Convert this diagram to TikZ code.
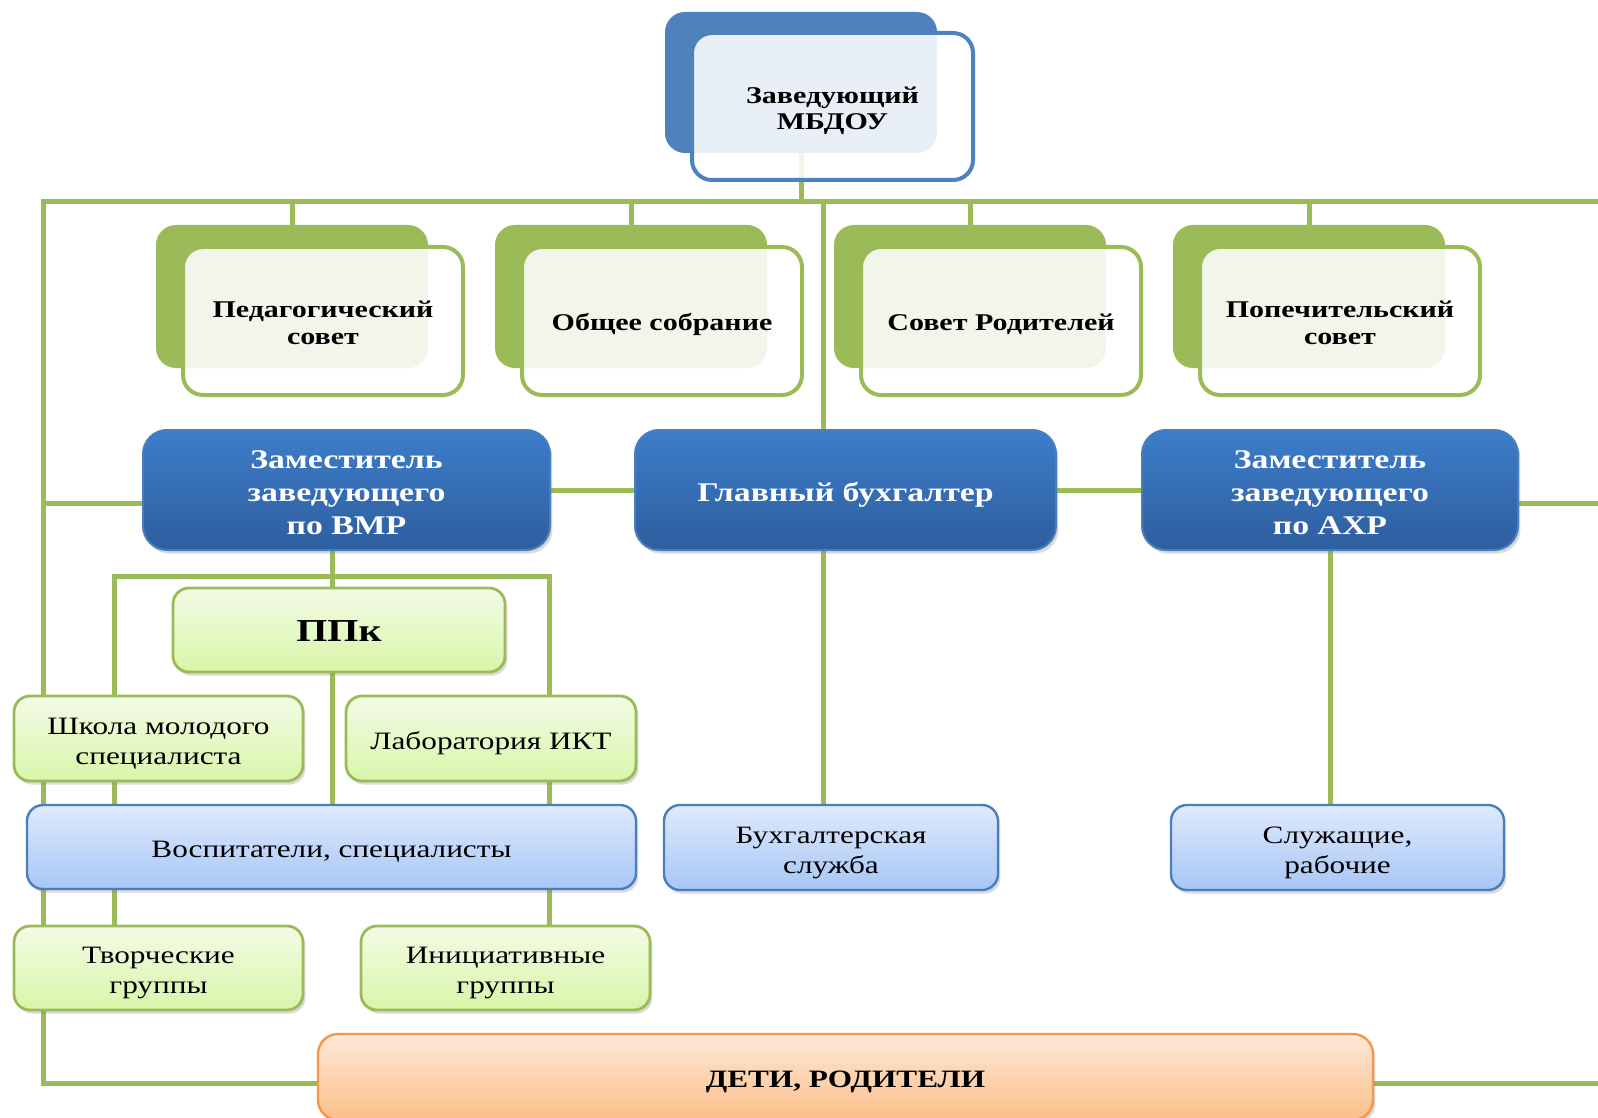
\documentclass[tikz,border=0pt]{standalone}
\usepackage{fontspec}
\setmainfont{Liberation Serif}[FakeStretch=1.25]
\usetikzlibrary{shadows}
\definecolor{gr}{HTML}{9BBB59}
\definecolor{bl}{HTML}{4F81BD}
\definecolor{bltop}{HTML}{3D7DCA}
\definecolor{blbot}{HTML}{2E5E9E}
\definecolor{blbrd}{HTML}{4A7EBB}
\definecolor{lgtop}{HTML}{F3FBE6}
\definecolor{lgbot}{HTML}{D8F6A8}
\definecolor{lbtop}{HTML}{DFEAFC}
\definecolor{lbbot}{HTML}{A7C6F7}
\definecolor{ortop}{HTML}{FDE8D8}
\definecolor{orbot}{HTML}{FBBF8A}
\definecolor{orbrd}{HTML}{F79646}
\newcommand{\boxtext}[1]{\raisebox{-2.3pt}[\height][\depth]{\begin{tabular}{@{}c@{}}#1\end{tabular}}}
\pgfdeclarelayer{bg}
\pgfsetlayers{bg,main}
\begin{document}
\begin{tikzpicture}[x=0.5pt,y=-0.5pt,
  conn/.style={draw=gr,line width=2.5pt},
  box/.style={inner sep=0pt},
  backbox/.style={inner sep=0pt,rounded corners=10pt},
  frontbox/.style={box,line width=2pt,fill=white,fill opacity=0.88,text opacity=1,rounded corners=10pt,
     font=\fontsize{12}{13.5}\selectfont\bfseries},
  shd/.style={drop shadow={opacity=0.3,shadow xshift=1.2pt,shadow yshift=-1.8pt}},
  bluebox/.style={box,shd,rounded corners=12pt,draw=blbrd,line width=1pt,top color=bltop,bottom color=blbot,
     text=white,font=\fontsize{13.5}{16.5}\selectfont\bfseries,minimum height=60pt},
  greenbox/.style={box,shd,rounded corners=8pt,draw=gr,line width=1.4pt,top color=lgtop,bottom color=lgbot,
     font=\fontsize{12.5}{15}\selectfont},
  lbluebox/.style={box,shd,rounded corners=8pt,draw=blbrd,line width=1.2pt,top color=lbtop,bottom color=lbbot,
     font=\fontsize{12.5}{15}\selectfont},
  orangebox/.style={box,shd,rounded corners=10pt,draw=orbrd,line width=1.2pt,top color=ortop,bottom color=orbot,
     font=\fontsize{12.5}{14}\selectfont\bfseries}
]
\useasboundingbox (0,0) rectangle (1598,1117);
\clip (0,0) rectangle (1598,1117);

% top box
\node[backbox,fill=bl,minimum width=136pt,minimum height=70.5pt] (topb) at (801,82.5) {};
\node[frontbox,draw=bl,minimum width=140.5pt,minimum height=73.5pt,font=\fontsize{12}{13}\selectfont\bfseries] (topf) at (832.5,106.5) {\boxtext{Заведующий\\МБДОУ}};

% row 2
\node[backbox,fill=gr,minimum width=136pt,minimum height=71.5pt] (pb1) at (292,296.5) {};
\node[frontbox,draw=gr,minimum width=140pt,minimum height=74pt] (pf1) at (323,321) {\boxtext{Педагогический\\совет}};
\node[backbox,fill=gr,minimum width=136pt,minimum height=71.5pt] (pb2) at (631,296.5) {};
\node[frontbox,draw=gr,minimum width=140pt,minimum height=74pt] (pf2) at (662,321) {\boxtext{Общее собрание}};
\node[backbox,fill=gr,minimum width=136pt,minimum height=71.5pt] (pb3) at (970,296.5) {};
\node[frontbox,draw=gr,minimum width=140pt,minimum height=74pt] (pf3) at (1001,321) {\boxtext{Совет Родителей}};
\node[backbox,fill=gr,minimum width=136pt,minimum height=71.5pt] (pb4) at (1309,296.5) {};
\node[frontbox,draw=gr,minimum width=140pt,minimum height=74pt] (pf4) at (1340,321) {\boxtext{Попечительский\\совет}};

% blue row
\node[bluebox,minimum width=203.5pt] (vmr) at (346.5,490) {\boxtext{Заместитель\\заведующего\\по ВМР}};
\node[bluebox,minimum width=210.5pt] (gb) at (845.5,490) {\boxtext{Главный бухгалтер}};
\node[bluebox,minimum width=188pt] (axr) at (1330,490) {\boxtext{Заместитель\\заведующего\\по АХР}};

% lower left
\node[greenbox,minimum width=166pt,minimum height=42pt,font=\fontsize{16}{18}\selectfont\bfseries] (ppk) at (339,630) {\boxtext{ППк}};
\node[greenbox,minimum width=144.5pt,minimum height=42.5pt] (shk) at (158.5,738.5) {\boxtext{Школа молодого\\специалиста}};
\node[greenbox,minimum width=145pt,minimum height=42.5pt] (lab) at (491,738.5) {\boxtext{Лаборатория ИКТ}};
\node[lbluebox,minimum width=304.5pt,minimum height=42pt] (vos) at (331.5,847) {\boxtext{Воспитатели, специалисты}};
\node[greenbox,minimum width=144.5pt,minimum height=42pt] (tv) at (158.5,968) {\boxtext{Творческие\\группы}};
\node[greenbox,minimum width=144.5pt,minimum height=42pt] (ini) at (505.5,968) {\boxtext{Инициативные\\группы}};

% lower right
\node[lbluebox,minimum width=167pt,minimum height=42.5pt] (buh) at (831,847.5) {\boxtext{Бухгалтерская\\служба}};
\node[lbluebox,minimum width=166.5pt,minimum height=42.5pt] (sl) at (1337.5,847.5) {\boxtext{Служащие,\\рабочие}};
\node[orangebox,minimum width=527.5pt,minimum height=43pt] (deti) at (845.5,1077) {\boxtext{ДЕТИ, РОДИТЕЛИ}};

\begin{pgfonlayer}{bg}
\coordinate (busL) at (43,202);
\coordinate (busR) at (1610,202);
\coordinate (botY) at (0,1083);
\coordinate (sideY) at (0,503);
\coordinate (gx) at (823,0);
\coordinate (vx) at (332,0);
\coordinate (bL) at (114,576);
\coordinate (bR) at (549,576);
\draw[conn] (busR) -- (busL) -- (busL |- botY) -- (deti.west |- botY);
\draw[conn] (deti.east |- botY) -- (busR |- botY);
\draw[conn] (topb.south) -- (topb.south |- busL);
\foreach \i in {1,2,3,4} \draw[conn] (pb\i.north) -- (pb\i.north |- busL);
\draw[conn] (gx |- busL) -- (gx |- gb.north);
\draw[conn] (gx |- gb.south) -- (gx |- buh.north);
\draw[conn] (busL |- sideY) -- (vmr.west |- sideY);
\draw[conn] (vmr) -- (gb);
\draw[conn] (gb) -- (axr);
\draw[conn] (axr.east |- sideY) -- (busR |- sideY);
\draw[conn] (axr) -- (axr |- sl.north);
\draw[conn] (vx |- vmr.south) -- (vx |- vos.north);
\draw[conn] (bL |- tv.north) -- (bL) -- (bR) -- (bR |- ini.north);
\end{pgfonlayer}
\end{tikzpicture}
\end{document}
